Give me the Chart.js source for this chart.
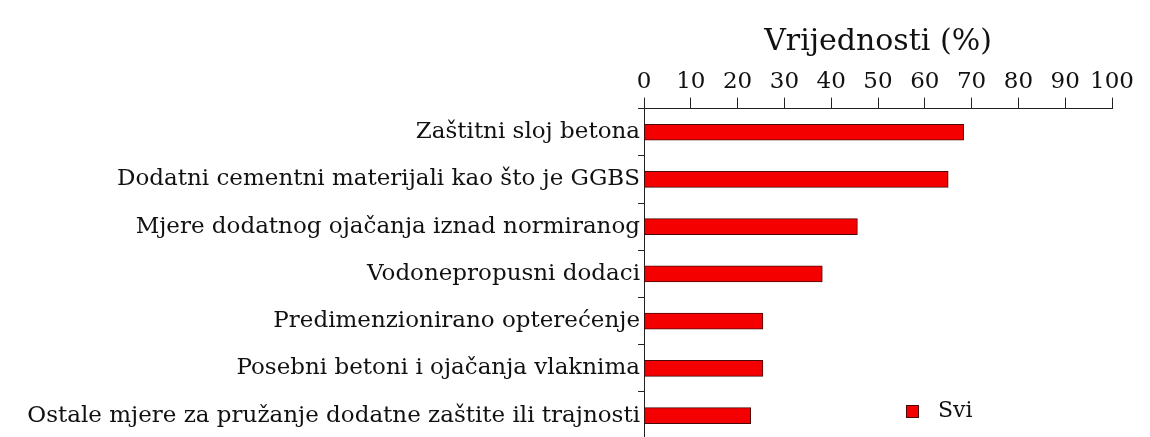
<!DOCTYPE html>
<html>
<head>
<meta charset="utf-8">
<script src="https://cdn.jsdelivr.net/npm/chart.js@4"></script>
<style>
  html, body { margin: 0; padding: 0; background: #fff; overflow: hidden; }
  #wrap { width: 1150px; height: 437px; overflow: hidden; }
</style>
</head>
<body>
<div id="wrap"><canvas id="chart" width="1150" height="451"></canvas></div>
<script>
// Mjere zaštite - vrijednosti u %
const categories = [
  'Zaštitni sloj betona',
  'Dodatni cementni materijali kao što je GGBS',
  'Mjere dodatnog ojačanja iznad normiranog',
  'Vodonepropusni dodaci',
  'Predimenzionirano opterećenje',
  'Posebni betoni i ojačanja vlaknima',
  'Ostale mjere za pružanje dodatne zaštite ili trajnosti'
];
const sviValues = [68.3, 65.0, 45.6, 38.1, 25.4, 25.4, 22.8];
const seriesName = 'Svi';
const axisTitle = 'Vrijednosti (%)';

const serif = '"DejaVu Serif", "Liberation Serif", serif';

// simple legend drawn in the lower right of the plot
const legendInside = {
  id: 'legendInside',
  afterDraw(chart) {
    const ctx = chart.ctx;
    const ds = chart.data.datasets[0];
    const x = 906, y = 411;
    ctx.save();
    ctx.fillStyle = ds.backgroundColor;
    ctx.strokeStyle = ds.borderColor;
    ctx.lineWidth = 1;
    ctx.fillRect(x, y - 6, 13, 13);
    ctx.strokeRect(x + 0.5, y - 5.5, 12, 12);
    ctx.fillStyle = '#111';
    ctx.font = '22px ' + serif;
    ctx.textBaseline = 'middle';
    ctx.fillText(ds.label, x + 32, y);
    ctx.restore();
  }
};

new Chart(document.getElementById('chart'), {
  type: 'bar',
  data: {
    labels: categories,
    datasets: [{
      label: seriesName,
      data: sviValues,
      backgroundColor: '#f50000',
      borderColor: '#4a0808',
      borderWidth: 1,
      borderSkipped: false,
      barThickness: 16
    }]
  },
  options: {
    indexAxis: 'y',
    responsive: false,
    animation: false,
    layout: { padding: { top: 24, right: 38, left: 6, bottom: 0 } },
    plugins: {
      legend: { display: false },
      tooltip: { enabled: false }
    },
    scales: {
      x: {
        position: 'top',
        min: 0,
        max: 100,
        ticks: { stepSize: 10, maxRotation: 0, autoSkip: false, color: '#111', font: { family: serif, size: 23 }, padding: 2 },
        grid: { drawOnChartArea: false, color: '#222', tickLength: 11 },
        border: { color: '#222', width: 1 },
        title: { display: true, text: axisTitle, color: '#111', font: { family: serif, size: 30 }, padding: { top: 0, bottom: 6 } }
      },
      y: {
        afterFit(scale) { scale.width = 638; },
        ticks: { color: '#111', font: { family: serif, size: 23 }, padding: -2 },
        grid: { drawOnChartArea: false, color: '#222', tickLength: 6, offset: true },
        border: { color: '#222', width: 1 }
      }
    }
  },
  plugins: [legendInside]
});
</script>
</body>
</html>
